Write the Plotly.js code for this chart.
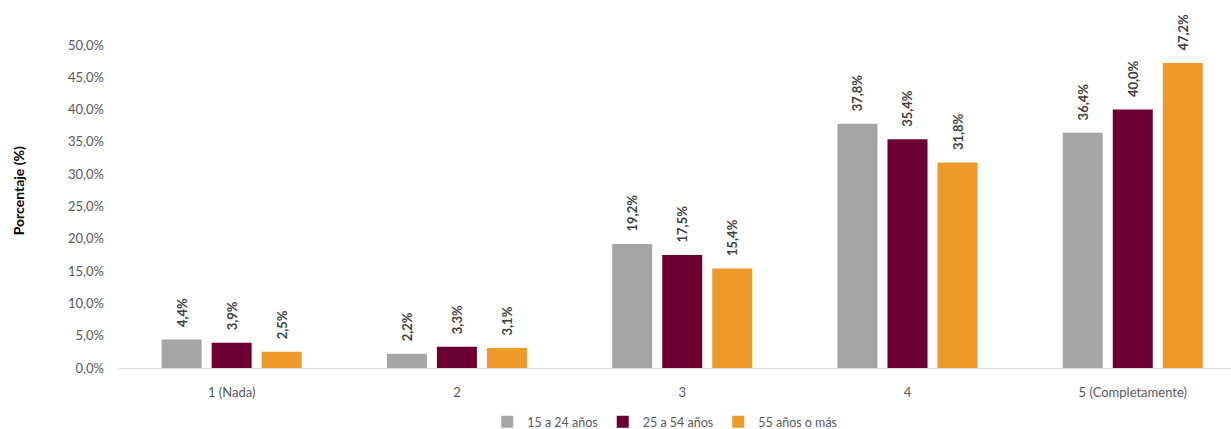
<!DOCTYPE html>
<html>
<head>
<meta charset="utf-8">
<script src="https://cdn.plot.ly/plotly-3.0.1.min.js"></script>
<style>html,body{margin:0;padding:0;background:#fff;}#chart{width:1231px;height:429px;}</style>
</head>
<body>
<div id="chart"></div>
<script>
const categories = ["1 (Nada)", "2", "3", "4", "5 (Completamente)"];
const seriesNames = ["15 a 24 años", "25 a 54 años", "55 años o más"];
const values15a24 = [4.4, 2.2, 19.2, 37.8, 36.4];
const values25a54 = [3.9, 3.3, 17.5, 35.4, 40.0];
const values55mas = [2.5, 3.1, 15.4, 31.8, 47.2];
const yTickVals = [0, 5, 10, 15, 20, 25, 30, 35, 40, 45, 50];
const yTickText = ["0,0%", "5,0%", "10,0%", "15,0%", "20,0%", "25,0%", "30,0%", "35,0%", "40,0%", "45,0%", "50,0%"];
const colors = ["#A5A5A5", "#6B0032", "#EE9A2B"];

const FONT = "Lato, 'Open Sans', 'Liberation Sans', sans-serif";
const fmt = v => "\u00a0\u00a0\u00a0" + v.toFixed(1).replace(".", ",") + "%";
const allSeries = [values15a24, values25a54, values55mas];

const traces = allSeries.map((vals, i) => ({
  type: "bar",
  name: seriesNames[i],
  x: categories,
  y: vals,
  marker: {color: colors[i]},
  text: vals.map(fmt),
  textposition: "outside",
  textangle: -90,
  constraintext: "none",
  cliponaxis: false,
  textfont: {family: FONT, size: 13, color: "#404040", weight: "bold"},
  hoverinfo: "skip"
}));

const layout = {
  width: 1231,
  height: 429,
  margin: {l: 119, r: 0, t: 45, b: 61, autoexpand: false},
  paper_bgcolor: "#ffffff",
  plot_bgcolor: "#ffffff",
  barmode: "group",
  bargap: 0.334,
  bargroupgap: 0.2,
  showlegend: true,
  legend: {
    orientation: "h",
    xref: "container", yref: "container",
    x: 0.54, xanchor: "center",
    y: 0.0163, yanchor: "middle",
    itemwidth: 30,
    font: {family: FONT, size: 12.5, color: "#595959"},
    traceorder: "normal"
  },
  xaxis: {
    type: "category",
    range: [-0.5, 4.436],
    showgrid: false,
    showline: true,
    linecolor: "#D9D9D9",
    linewidth: 1,
    ticks: "",
    ticklabelstandoff: 12,
    tickfont: {family: FONT, size: 13, color: "#595959"},
    zeroline: false
  },
  yaxis: {
    range: [0, 50],
    tickvals: yTickVals,
    ticktext: yTickText,
    showgrid: false,
    showline: false,
    zeroline: false,
    ticks: "",
    ticklabelstandoff: 14,
    tickfont: {family: FONT, size: 13, color: "#595959"}
  },
  annotations: [{
    text: "Porcentaje (%)",
    xref: "paper", yref: "paper",
    x: -0.0908, y: 0.547,
    xanchor: "center", yanchor: "middle",
    textangle: -90,
    showarrow: false,
    font: {family: FONT, size: 14, color: "#000000", weight: "bold"}
  }]
};

Plotly.newPlot("chart", traces, layout, {displayModeBar: false, staticPlot: true});
</script>
</body>
</html>
